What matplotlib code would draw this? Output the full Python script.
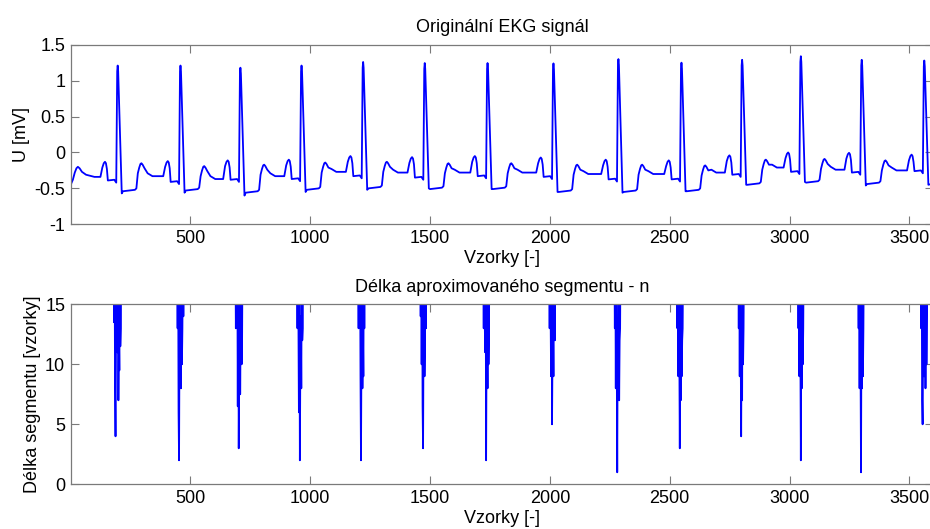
import matplotlib
matplotlib.use("Agg")
import matplotlib.pyplot as plt

# ---------------- data ----------------
# R-peak positions (samples) and per-beat levels (mV)
r_pos = [197, 459, 709, 964, 1221, 1478, 1740, 2015, 2286, 2549, 2802, 3047, 3301, 3562]
r_amp = [1.21, 1.21, 1.18, 1.21, 1.26, 1.245, 1.245, 1.24, 1.30, 1.25, 1.29, 1.34, 1.29, 1.28]
p_amp = [-0.13, -0.12, -0.11, -0.10, -0.05, -0.065, -0.05, -0.07, -0.10, -0.11, -0.04, 0.0, -0.005, -0.03]
pr_lvl = [-0.39, -0.41, -0.38, -0.37, -0.33, -0.35, -0.33, -0.34, -0.375, -0.375, -0.31, -0.27, -0.28, -0.26]
s_lvl = [-0.57, -0.56, -0.60, -0.55, -0.52, -0.50, -0.51, -0.55, -0.56, -0.54, -0.45, -0.41, -0.46, -0.45]
st_lvl = [-0.52, -0.51, -0.54, -0.50, -0.48, -0.49, -0.49, -0.53, -0.53, -0.52, -0.43, -0.40, -0.42]
t_amp = [-0.15, -0.19, -0.17, -0.14, -0.13, -0.15, -0.15, -0.17, -0.17, -0.18, -0.10, -0.09, -0.11]
base_lvl = [-0.33, -0.37, -0.33, -0.27, -0.28, -0.28, -0.28, -0.30, -0.30, -0.28, -0.21, -0.24, -0.25]

# beginning of the record (tail of the preceding beat) and its end
start_x = [1, 10, 18, 25, 31, 38, 48, 65, 100]
start_y = [-0.45, -0.38, -0.28, -0.22, -0.20, -0.22, -0.27, -0.31, -0.34]
end_x = [3600]
end_y = [-0.43]

# wave landmarks relative to the R peak (samples) and offsets from the read levels (mV)
p_offs = [-72, -64, -58, -53, -49, -45, -41, -14, -6]
p_rel = [0.0, -0.08, -0.02, 0.0, -0.02, -0.10, 0.0, 0.01, -0.03]   # relative to [b, p, p, p, p, p, pr, pr, pr]
qrs_offs = [-2, 0, 2, 17, 22, 72]
t_offs = [78, 84, 90, 95, 99, 104, 112, 125, 145]
t_rel = [0.02, -0.14, -0.06, -0.01, 0.0, -0.02, -0.07, 0.04, 0.0]  # relative to [st, t, t, t, t, t, t, b, b]

# segment length n: clusters of values around each beat (sampled every 2 samples)
n_start = [180, 443, 688, 943, 1200, 1457, 1720, 1995, 2267, 2528, 2784, 3033, 3284, 3547]
n_vals = [
    [20, 13.5, 20, 8, 4, 12, 20, 14, 11, 20, 7, 13, 9.5, 20, 11.5, 13, 20, 20],
    [20, 20, 13, 20, 6, 2, 13, 20, 14, 8, 20, 10, 13, 20, 14, 20, 20, 20],
    [20, 13, 20, 14, 20, 6.5, 20, 3, 10, 20, 7.5, 13, 20, 10, 12, 20, 20, 20],
    [20, 20, 13, 20, 14, 6, 20, 2, 10, 14, 8, 20, 12, 13, 20, 20, 20, 20],
    [20, 13, 20, 14, 20, 9, 2, 12, 20, 8, 13, 9, 20, 13, 20, 20, 20, 20],
    [20, 20, 14, 20, 10, 20, 6.5, 3, 13, 20, 9, 12, 20, 13, 20, 20, 20, 20],
    [20, 20, 13, 20, 14, 11, 20, 2, 12, 14, 8, 20, 10, 13, 20, 20, 20, 20],
    [20, 20, 13, 20, 14, 9, 20, 5, 11, 14, 9, 20, 13, 12, 20, 20, 20, 20],
    [20, 20, 13, 20, 8, 20, 11, 1, 13, 9, 20, 7, 12, 13, 20, 20, 20, 20],
    [20, 20, 13, 20, 9, 20, 11, 3, 13, 7, 20, 9, 12, 13, 20, 20, 20, 20],
    [20, 20, 13, 20, 9, 20, 12, 4, 14, 7, 20, 10, 13, 20, 20, 20, 20, 20],
    [20, 20, 13, 20, 9, 20, 12, 2, 14, 8, 20, 10, 13, 20, 20, 20, 20, 20],
    [20, 20, 13, 20, 8, 20, 10, 1, 14, 8, 20, 9, 13, 20, 20, 20, 20, 20],
    [20, 13, 20, 7, 5, 11, 20, 9, 13, 20, 8, 20, 10, 14, 20, 20, 20, 20],
]
n_base = 20
n_first, n_last = 1, 3600

x_ticks = [500, 1000, 1500, 2000, 2500, 3000, 3500]
u_ticks = [-1, -0.5, 0, 0.5, 1, 1.5]
u_ticklabels = ["-1", "-0.5", "0", "0.5", "1", "1.5"]
n_ticks = [0, 5, 10, 15]

# ---------------- build the line vertices ----------------
ex, ey = list(start_x), list(start_y)
for k, R in enumerate(r_pos):
    b_prev = base_lvl[k - 1] if k > 0 else start_y[-1]
    p, pr = p_amp[k], pr_lvl[k]
    p_ref = [b_prev, p, p, p, p, p, pr, pr, pr]
    ex += [R + o for o in p_offs]
    ey += [a + d for a, d in zip(p_ref, p_rel)]
    if k < len(st_lvl):
        st = st_lvl[k]
        ex += [R + o for o in qrs_offs]
        ey += [r_amp[k] - 0.08, r_amp[k], r_amp[k] - 0.08, s_lvl[k], st - 0.02, st]
        t, b = t_amp[k], base_lvl[k]
        t_ref = [st, t, t, t, t, t, t, b, b]
        ex += [R + o for o in t_offs]
        ey += [a + d for a, d in zip(t_ref, t_rel)]
    else:
        ex += [R + o for o in qrs_offs[:4]]
        ey += [r_amp[k] - 0.08, r_amp[k], r_amp[k] - 0.08, s_lvl[k]]
ex += end_x
ey += end_y

nx, ny = [n_first], [n_base]
for s0, vals in zip(n_start, n_vals):
    for i, v in enumerate(vals):
        nx.append(s0 + 2 * i)
        ny.append(v)
nx.append(n_last)
ny.append(n_base)

# ---------------- drawing ----------------
plt.rcParams['font.family'] = ['Liberation Sans', 'DejaVu Sans']
FS = 13

W, H = 930, 529
fig = plt.figure(figsize=(W / 100, H / 100), dpi=100)
left, right = 70.7, 933.4
ax1 = fig.add_axes([left / W, 1 - 224.3 / H, (right - left) / W, (224.3 - 44.7) / H])
ax2 = fig.add_axes([left / W, 1 - 484.3 / H, (right - left) / W, (484.3 - 304.3) / H])

blue = (0, 0, 1)
grey = '#7a7a7a'

ax1.plot(ex, ey, color=blue, lw=1.3)
ax2.plot(nx, ny, color=blue, lw=1.3)

for ax in (ax1, ax2):
    ax.set_xlim(1, 3600)
    ax.set_xticks(x_ticks)
    ax.tick_params(direction='in', top=True, right=True, length=6, width=0.8,
                   color=grey, labelsize=FS, pad=4)
    for sp in ax.spines.values():
        sp.set_color(grey)
        sp.set_linewidth(0.9)
    ax.set_xlabel('Vzorky [-]', fontsize=FS, labelpad=2)

ax1.set_ylim(-1, 1.5)
ax1.set_yticks(u_ticks)
ax1.set_yticklabels(u_ticklabels)
ax1.set_ylabel('U [mV]', fontsize=FS, labelpad=3)
ax1.set_title('Originální EKG signál', fontsize=FS, pad=9)

ax2.set_ylim(0, 15)
ax2.set_yticks(n_ticks)
ax2.set_ylabel('Délka segmentu [vzorky]', fontsize=FS, labelpad=3)
ax2.set_title('Délka aproximovaného segmentu - n', fontsize=FS, pad=9)

fig.savefig('out.png', dpi=100)
